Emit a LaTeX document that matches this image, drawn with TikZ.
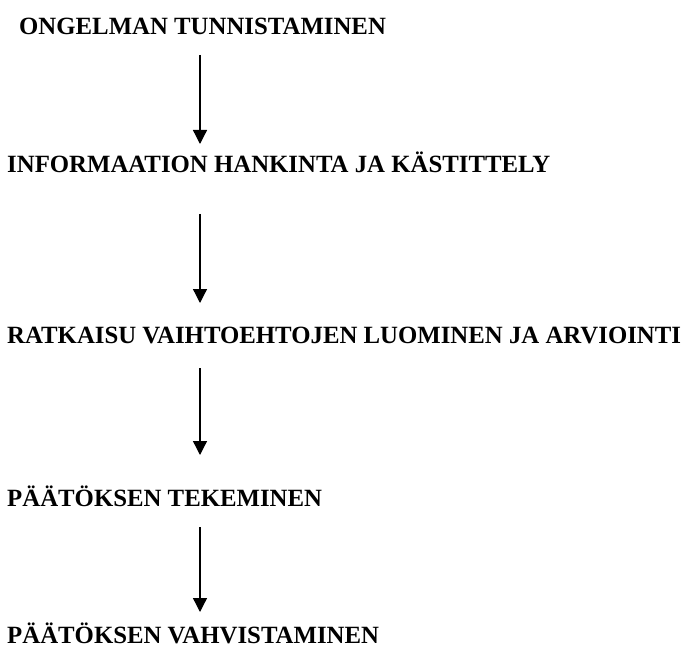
\documentclass[tikz,border=0pt]{standalone}
\usepackage{fontspec}
\setmainfont{Liberation Serif}
\usetikzlibrary{arrows.meta}
\begin{document}
\begin{tikzpicture}[x=1pt,y=-1pt,
  lbl/.style={anchor=base west,inner sep=0pt,font=\fontsize{24.8}{28}\selectfont\bfseries},
  flow/.style={line width=1.3pt,-{Triangle[width=14pt,length=14pt]}}]
\useasboundingbox (0,0) rectangle (685,652);
\node[lbl] (t1) at (19,35) {ONGELMAN TUNNISTAMINEN};
\node[lbl] (t2) at (7,173) {INFORMAATION HANKINTA JA KÄSTITTELY};
\node[lbl] (t3) at (7,343) {RATKAISU VAIHTOEHTOJEN LUOMINEN JA ARVIOINTI};
\node[lbl] (t4) at (7,506) {PÄÄTÖKSEN TEKEMINEN};
\node[lbl] (t5) at (7,643) {PÄÄTÖKSEN VAHVISTAMINEN};
\coordinate (a1s) at (200,55);  \coordinate (a1e) at (200,144);
\coordinate (a2s) at (200,214); \coordinate (a2e) at (200,303);
\coordinate (a3s) at (200,368); \coordinate (a3e) at (200,455);
\coordinate (a4s) at (200,527); \coordinate (a4e) at (200,612);
\draw[flow] (a1s) -- (a1e);
\draw[flow] (a2s) -- (a2e);
\draw[flow] (a3s) -- (a3e);
\draw[flow] (a4s) -- (a4e);
\end{tikzpicture}
\end{document}
